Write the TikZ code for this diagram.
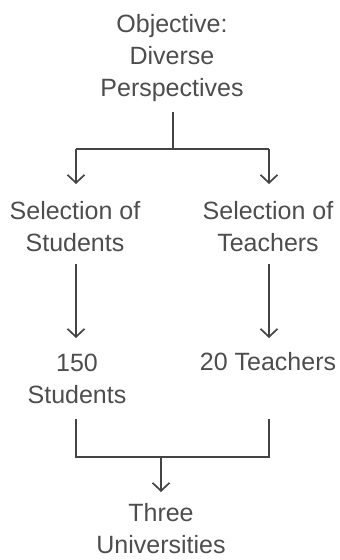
\documentclass[tikz,border=0pt]{standalone}
\usepackage{fontspec}
\setmainfont{Liberation Sans}
\usetikzlibrary{arrows.meta}
\definecolor{inkgray}{HTML}{4D4D4D}
\definecolor{linegray}{HTML}{444444}
\begin{document}
\begin{tikzpicture}[x=1pt,y=-1pt,
  label/.style={text=inkgray,align=center,inner sep=0pt,
    font=\fontsize{25}{32}\selectfont},
  link/.style={draw=linegray,line width=1.7pt},
  flow/.style={link,-{Straight Barb[length=8pt,width=17pt,line width=1.7pt]}}]
\useasboundingbox (0,0) rectangle (340,560);

% text blocks
\node[label] (obj)  at (172,58)  {Objective:\\Diverse\\Perspectives};
\node[label] (selS) at (75,227)  {Selection of\\Students};
\node[label] (selT) at (268,227) {Selection of\\Teachers};
\node[label] (stud) at (77,379)  {150\\Students};
\node[label] (teach) at (268,362) {20 Teachers};
\node[label] (uni)  at (161,529) {Three\\Universities};

% junction points of the branching connectors
\coordinate (objfoot) at (173,112);
\coordinate (split)   at (173,149);
\coordinate (splitL)  at (76,149);
\coordinate (splitR)  at (269,149);
\coordinate (tipL)    at (76,184);
\coordinate (tipR)    at (269,184);
\coordinate (selSfoot) at (76,264);
\coordinate (selTfoot) at (269,264);
\coordinate (studtip)  at (76,338);
\coordinate (teachtip) at (269,338);
\coordinate (studfoot) at (76,419);
\coordinate (teachfoot) at (269,419);
\coordinate (joinL) at (76,457);
\coordinate (joinR) at (269,457);
\coordinate (join)  at (161,457);
\coordinate (unitip) at (161,492);

% objective splits into the two selections
\draw[link] (objfoot) -- (split);
\draw[link] (splitL) -- (splitR);
\draw[flow] (splitL) -- (tipL);
\draw[flow] (splitR) -- (tipR);

% selections lead to the counts
\draw[flow] (selSfoot) -- (studtip);
\draw[flow] (selTfoot) -- (teachtip);

% counts merge into the universities
\draw[link] (studfoot) -- (joinL) -- (joinR) -- (teachfoot);
\draw[flow] (join) -- (unitip);
\end{tikzpicture}
\end{document}
